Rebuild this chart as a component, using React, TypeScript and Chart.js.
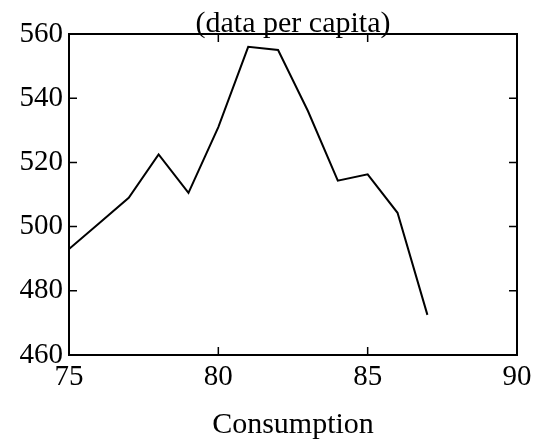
import React, { useEffect, useRef } from "react";
import { Chart, registerables } from "chart.js";

Chart.register(...registerables);

const years = [75, 76, 77, 78, 79, 80, 81, 82, 83, 84, 85, 86, 87];
const values = [493, 501, 509, 522.5, 510.5, 531, 556, 555, 536, 514.3, 516.3, 504.3, 472.5];
const xTickRange = { min: 75, max: 90, step: 5 };
const yTickRange = { min: 460, max: 560, step: 20 };
const titleText = "(data per capita)";
const xAxisTitle = "Consumption";

const FONT = "'Liberation Serif', 'Times New Roman', serif";

const framePlugin = {
  id: "frameTicks",
  afterDraw(chart: any) {
    const { ctx, chartArea } = chart;
    const { left, right, top, bottom } = chartArea;
    const xs = chart.scales.x;
    const ys = chart.scales.y;
    const len = 8;
    ctx.save();
    ctx.strokeStyle = "#000";
    ctx.lineWidth = 1.5;
    ctx.beginPath();
    xs.ticks.forEach((t: any) => {
      const px = xs.getPixelForValue(t.value);
      ctx.moveTo(px, bottom);
      ctx.lineTo(px, bottom - len);
      ctx.moveTo(px, top);
      ctx.lineTo(px, top + len);
    });
    ys.ticks.forEach((t: any) => {
      const py = ys.getPixelForValue(t.value);
      ctx.moveTo(left, py);
      ctx.lineTo(left + len, py);
      ctx.moveTo(right, py);
      ctx.lineTo(right - len, py);
    });
    ctx.stroke();
    ctx.lineWidth = 2;
    ctx.strokeRect(left, top, right - left, bottom - top);
    // title centred over the plot area
    ctx.fillStyle = "#000";
    ctx.font = `30px ${FONT}`;
    ctx.textAlign = "center";
    ctx.textBaseline = "alphabetic";
    ctx.fillText(titleText, (left + right) / 2, top - 2);
    ctx.restore();
  },
};

export default function App() {
  const ref = useRef<HTMLCanvasElement>(null);
  useEffect(() => {
    if (!ref.current) return;
    const chart = new Chart(ref.current, {
      type: "line",
      data: {
        datasets: [
          {
            data: years.map((y, i) => ({ x: y, y: values[i] })),
            borderColor: "#000",
            borderWidth: 2,
            pointRadius: 0,
            tension: 0,
            fill: false,
          },
        ],
      },
      options: {
        responsive: false,
        animation: false,
        layout: { padding: { left: 0, right: 25, top: 34, bottom: 0 } },
        plugins: {
          legend: { display: false },
          tooltip: { enabled: false },
          title: { display: false },
        },
        scales: {
          x: {
            type: "linear",
            min: xTickRange.min,
            max: xTickRange.max,
            grid: { display: false, drawTicks: false },
            border: { display: false },
            ticks: {
              stepSize: xTickRange.step,
              color: "#000",
              padding: 5,
              maxRotation: 0,
              font: { family: FONT, size: 29 },
            },
            title: {
              display: true,
              text: xAxisTitle,
              color: "#000",
              font: { family: FONT, size: 30 },
              padding: { top: 0, bottom: 4 },
            },
            afterFit(scale: any) {
              scale.height = 92;
            },
          },
          y: {
            min: yTickRange.min,
            max: yTickRange.max,
            grid: { display: false, drawTicks: false },
            border: { display: false },
            ticks: {
              stepSize: yTickRange.step,
              color: "#000",
              padding: 6,
              font: { family: FONT, size: 29 },
            },
            afterFit(scale: any) {
              scale.width = 69;
            },
          },
        },
      },
      plugins: [framePlugin],
    });
    return () => chart.destroy();
  }, []);
  return (
    <div style={{ position: "fixed", left: 0, top: 0, width: 542, height: 447, background: "#fff" }}>
      <canvas ref={ref} width={542} height={447} style={{ width: 542, height: 447 }} />
    </div>
  );
}
